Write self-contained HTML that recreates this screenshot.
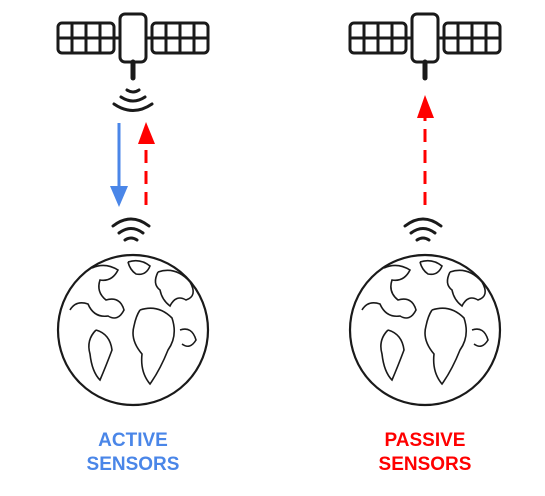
<!DOCTYPE html>
<html><head><meta charset="utf-8"><style>
html,body{margin:0;padding:0;background:#fff;}
svg{display:block}
text{font-family:"Liberation Sans",sans-serif;font-weight:bold;font-size:19px}
</style></head><body>
<svg width="545" height="496" viewBox="0 0 545 496">
<defs>
<g id="sat" fill="none" stroke="#1a1a1a" stroke-width="3">
  <rect x="58" y="23" width="56" height="30" rx="4"/>
  <line x1="72" y1="23" x2="72" y2="53"/><line x1="86" y1="23" x2="86" y2="53"/><line x1="100" y1="23" x2="100" y2="53"/>
  <line x1="58" y1="38" x2="114" y2="38"/>
  <line x1="114" y1="38" x2="120" y2="38"/>
  <rect x="120" y="14" width="26" height="48" rx="5"/>
  <line x1="146" y1="38" x2="152" y2="38"/>
  <rect x="152" y="23" width="56" height="30" rx="4"/>
  <line x1="166" y1="23" x2="166" y2="53"/><line x1="180" y1="23" x2="180" y2="53"/><line x1="194" y1="23" x2="194" y2="53"/>
  <line x1="152" y1="38" x2="208" y2="38"/>
  <line x1="133" y1="62" x2="133" y2="78" stroke-width="5" stroke-linecap="round"/>
</g>
<g id="wavesdown" fill="none" stroke="#1a1a1a" stroke-width="3" stroke-linecap="round">
  <path d="M127 90 Q133 94 139 90"/>
  <path d="M121 97 Q133 105 145 97"/>
  <path d="M114 104 Q133 117 152 104"/>
</g>
<g id="wavesup" fill="none" stroke="#1a1a1a" stroke-width="3" stroke-linecap="round">
  <path d="M113 226 Q131 212 149 226"/>
  <path d="M119 233 Q131 224 143 233"/>
  <path d="M125 240 Q131 236 137 240"/>
</g>
<g id="earth" fill="none" stroke="#1a1a1a" stroke-width="1.6">
  <circle cx="133" cy="330" r="75" stroke-width="2.2"/>
  <path d="M92 268 Q105 262 118 270 Q112 282 100 280 Q96 292 106 300 Q120 296 124 310 Q118 322 108 316 Q94 318 88 304 Q76 300 70 310"/>
  <path d="M128 262 Q140 258 150 266 Q146 276 136 274 Q130 270 128 262"/>
  <path d="M158 272 Q176 266 190 282 Q198 296 186 300 Q176 294 170 306 Q162 300 160 290 Q152 284 158 272"/>
  <path d="M140 310 Q158 304 172 318 Q178 336 168 350 Q160 370 150 384 Q140 372 142 354 Q130 340 134 326 Q136 316 140 310"/>
  <path d="M96 330 Q110 334 112 350 Q106 366 100 380 Q92 372 90 354 Q86 340 96 330"/>
  <path d="M180 330 Q192 326 196 340 Q190 350 182 344"/>
</g>
</defs>

<g>
  <use href="#sat"/>
  <use href="#wavesdown"/>
  <line x1="119" y1="123" x2="119" y2="188" stroke="#4a86e8" stroke-width="3"/>
  <polygon points="110,186 128,186 119,207" fill="#4a86e8"/>
  <line x1="146" y1="205" x2="146" y2="140" stroke="#ff0000" stroke-width="3" stroke-dasharray="13,8"/>
  <polygon points="138,144 155,144 146,122" fill="#ff0000"/>
  <use href="#wavesup"/>
  <use href="#earth"/>
  <text x="133" y="446" text-anchor="middle" fill="#4a86e8">ACTIVE</text>
  <text x="133" y="470" text-anchor="middle" fill="#4a86e8">SENSORS</text>
</g>

<g transform="translate(292,0)">
  <use href="#sat"/>
  <line x1="133" y1="205" x2="133" y2="116" stroke="#ff0000" stroke-width="3" stroke-dasharray="13,8"/>
  <polygon points="125,118 142,118 133,95" fill="#ff0000"/>
  <use href="#wavesup"/>
  <use href="#earth"/>
  <text x="133" y="446" text-anchor="middle" fill="#ff0000">PASSIVE</text>
  <text x="133" y="470" text-anchor="middle" fill="#ff0000">SENSORS</text>
</g>
</svg>
</body></html>
